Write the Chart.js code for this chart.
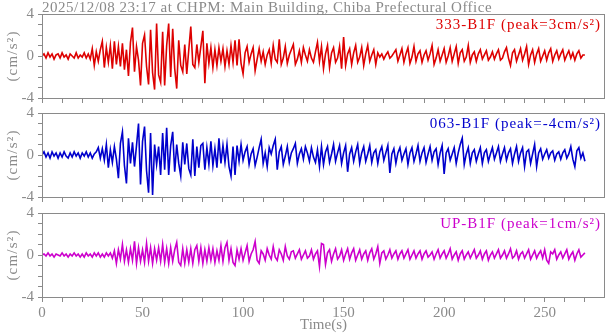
<!DOCTYPE html>
<html>
<head>
<meta charset="utf-8">
<script src="https://cdn.jsdelivr.net/npm/chart.js@4.4.1/dist/chart.umd.min.js"></script>
<style>
  html, body { margin: 0; padding: 0; background: #fff; }
  #wrap { position: relative; width: 605px; height: 334px; overflow: hidden; }
  canvas { position: absolute; left: 0; }
</style>
</head>
<body>
<div id="wrap">
  <canvas id="c1" width="605" height="104" style="top:0px"></canvas>
  <canvas id="c2" width="605" height="103" style="top:100px"></canvas>
  <canvas id="c3" width="605" height="134" style="top:200px"></canvas>
</div>
<script>
// acceleration (cm/s^2), one sample per second from t=0
const sampleStep = 1;

const ch333 = [
  0.0, 0.2, -0.2, 0.3, -0.1, 0.2, -0.3, 0.1, 0.2, -0.2,
  0.3, -0.1, 0.1, -0.3, 0.2, 0.0, -0.2, 0.3, -0.2, 0.1,
  -0.1, 0.3, -0.2, 0.2, -0.3, 0.7, -0.9, 0.4, -0.5, 0.6,
  1.4, -1.1, 0.8, -0.6, 1.0, -1.2, 1.4, -0.8, 0.9, -1.0,
  1.2, -1.3, 0.6, -1.9, 1.3, 2.7, -1.5, 0.9, -0.4, -2.8,
  1.2, 2.0, -1.0, -2.7, 2.5, -1.6, -3.2, 3.1, -1.8, -2.5,
  2.3, -2.8, 1.0, 3.1, -2.0, 2.6, -1.2, -3.1, 1.5, -0.9,
  -1.5, 1.1, -1.7, 0.6, 2.8, -0.8, -1.1, 1.1, -0.6, 0.9,
  2.4, -2.6, 1.2, -0.7, 0.8, -1.1, 0.6, -0.9, 0.8, -0.5,
  0.7, -1.0, 0.5, -0.8, 1.0, -0.6, 1.5, -0.9, 1.6, -0.7,
  -1.7, 0.3, 0.9, -0.6, 0.2, 0.8, -1.4, -0.3, 0.7, -0.5,
  0.4, -0.8, 0.1, 0.6, -0.7, 1.0, -0.3, -0.6, 1.6, -0.8,
  -0.2, 0.9, -0.7, 0.1, 0.6, 1.1, -0.8, -0.3, 0.5, -0.6,
  0.8, 0.1, -0.5, 0.6, -0.2, -0.6, 0.4, 1.3, -0.5, 0.9,
  -1.2, 0.2, 1.0, -1.1, 0.3, 0.8, -0.6, -0.2, 0.9, -1.2,
  1.8, -0.9, 0.2, 0.7, -0.8, 0.3, 1.0, -0.6, -0.1, 0.8,
  -0.9, 0.2, 1.0, -0.5, 0.1, 0.6, -0.8, 0.3, -0.1, 0.2,
  -0.3, 0.1, 0.4, -0.2, 0.0, 0.3, 0.6, -0.5, 0.1, 0.7,
  -0.6, 0.2, 0.8, -0.7, -0.1, 0.9, -0.5, 0.2, 0.5, -0.6,
  0.1, 0.5, -0.4, 0.2, 1.0, -0.8, -0.2, 0.6, -0.5, 0.1,
  0.7, -0.6, 0.0, 0.8, -0.5, 0.2, 0.9, -0.7, 0.3, 0.6,
  -0.5, -0.1, 1.0, -0.6, 0.1, 0.4, -0.5, 0.2, 0.6, -0.3,
  0.1, 0.5, -0.4, -0.1, 0.4, -0.3, 0.2, 0.6, -0.4, -0.2,
  0.4, 0.8, -0.2, -0.9, 0.3, 0.6, -0.5, 0.1, 0.7, -0.4,
  0.2, 0.9, -0.8, 0.1, 0.6, -0.6, 0.2, 0.7, -0.5, 0.0,
  0.5, -0.4, 0.3, 0.7, -0.5, 0.1, 0.5, -0.3, 0.2, 0.6,
  -0.4, 0.1, 0.5, -0.2, 0.3, -0.4, 0.2, 0.5, -0.2, 0.1, 0.1
];

const ch063 = [
  0.0, 0.3, -0.2, 0.2, -0.3, 0.3, -0.1, 0.2, -0.3, 0.2,
  -0.2, 0.3, -0.1, -0.3, 0.2, -0.2, 0.3, -0.1, 0.2, -0.3,
  0.2, -0.1, 0.3, -0.2, 0.2, -0.3, 0.1, 0.3, 0.7, -0.3,
  0.6, -0.5, 1.0, -1.2, 0.5, -0.7, 0.8, -0.4, -2.2, 1.1,
  2.2, -1.0, -2.7, 1.6, -0.8, 1.2, -1.1, 0.9, 3.0, -2.8,
  1.3, 2.7, -1.5, -3.6, 2.1, -3.8, 1.0, -0.9, 0.8, -1.9,
  2.1, -1.4, 2.6, -1.9, 0.9, 2.2, -1.6, 1.0, -0.8, -2.0,
  1.2, -0.9, 1.1, -1.3, -1.9, 1.5, -2.0, 0.8, -1.2, 0.9,
  1.1, -1.4, 0.7, -0.9, 1.3, -1.0, 0.6, -1.2, 1.6, -0.8,
  0.9, -0.7, 1.0, -1.1, -2.0, 0.8, -1.9, 0.9, -0.6, 1.0,
  -0.5, 0.3, 0.8, -0.9, 0.1, 0.6, -1.0, -0.2, 0.7, 1.5,
  -0.8, 0.2, -1.1, 0.7, 0.1, 0.9, 1.5, -1.4, 0.3, 0.8,
  -0.9, -0.1, 0.8, -0.7, 0.2, 0.6, 1.1, -0.8, 0.1, 0.6,
  -0.4, 0.8, 0.2, -0.6, 0.7, -0.2, -0.7, 0.5, -1.1, 0.8,
  -0.9, 0.3, 0.8, -0.7, 0.1, 1.0, -0.6, 0.2, 0.9, -0.8,
  0.2, 0.9, -1.6, 0.1, 0.7, -0.6, 0.3, 1.0, -0.8, 0.2,
  0.8, -0.6, 0.1, 0.9, -0.7, 0.2, 0.5, -0.8, 0.3, 0.8,
  -0.5, 0.2, 0.9, -1.7, 0.1, 0.6, -0.8, 0.2, 0.7, -0.5,
  0.1, 0.6, -0.9, 0.2, 0.7, -0.6, 0.1, 0.9, -0.6, 0.2,
  0.7, -0.7, 0.1, 0.8, -0.5, 0.3, 0.6, -0.9, 0.2, 0.9,
  -1.8, 0.2, 0.6, -0.5, 0.1, 0.7, -0.8, 0.2, 1.0, 1.6,
  -0.9, 0.1, 0.7, -0.8, 0.2, 0.5, -0.6, 0.1, 0.7, -0.8,
  0.2, 0.5, -0.6, 0.1, 0.7, -0.4, 0.2, 0.8, -0.6, 0.1,
  0.7, -0.5, 0.2, 0.6, -0.8, 0.1, 0.8, -0.6, 0.2, 0.7,
  -1.1, 0.3, 0.5, -0.8, 0.1, 1.0, -1.1, 0.2, 0.6, -0.4,
  0.1, 0.5, -0.3, 0.2, 0.4, -0.5, 0.1, 0.3, -0.4, 0.2,
  0.5, -0.3, 0.1, 0.8, -0.4, -1.1, 0.4, 0.7, -0.3, 0.2, -0.6
];

const chUP = [
  0.0, 0.1, -0.1, 0.2, -0.1, 0.1, -0.2, 0.1, 0.0, -0.1,
  0.2, -0.1, 0.1, -0.2, 0.1, -0.1, 0.2, -0.1, 0.1, -0.2,
  0.1, -0.2, 0.2, -0.1, 0.1, -0.2, 0.2, -0.1, 0.2, -0.2,
  0.1, -0.2, 0.2, -0.1, 0.2, -0.3, 0.4, -0.8, 0.5, -0.4,
  1.0, -0.6, 0.5, -0.7, 0.6, -0.5, 1.3, -0.8, 0.7, -0.6,
  0.5, -0.7, 1.1, -0.6, 0.7, -0.8, 0.6, -0.5, 0.7, -0.6,
  1.0, -0.7, 0.6, -0.8, 0.7, -0.6, 0.5, 1.2, -0.7, -1.0,
  0.6, -0.8, 0.5, -0.7, 0.6, -0.8, 0.5, 0.9, -0.6, 0.7,
  -0.8, 0.5, -0.6, 0.7, -0.5, 0.6, -0.7, 0.4, -0.5, 0.9,
  -0.6, 0.7, 1.2, -0.5, 0.6, -0.7, -1.0, 0.5, -0.4, 0.6,
  -0.5, 0.2, 0.9, -0.6, 0.1, 0.5, 1.3, -0.5, -0.8, 0.4,
  0.1, -0.5, 0.6, 0.0, -0.4, 0.8, -0.2, -0.5, 0.5, 0.1,
  -0.5, 0.8, -0.1, -0.4, 0.3, 0.4, -0.3, 0.1, 0.5, -0.4,
  0.0, 0.4, -0.3, -0.1, 0.5, -0.4, 0.1, 0.4, -1.1, 1.1,
  1.0, -0.9, 0.2, 0.5, -0.6, 0.1, 0.6, -0.4, -0.1, 0.5,
  -0.5, 0.1, 0.6, -0.4, 0.2, 0.6, -0.5, 0.0, 0.5, -0.4,
  0.1, 0.4, -0.5, 0.2, 0.6, -0.4, 0.1, 0.8, -0.8, 0.2,
  0.4, -0.4, 0.0, 0.5, -0.3, 0.1, 0.4, -0.4, 0.1, 0.4,
  -0.3, 0.1, 0.5, -0.4, 0.0, 0.4, -0.3, 0.1, 0.4, -0.4,
  0.1, 0.4, -0.2, 0.0, 0.3, -0.4, 0.1, 0.5, -0.3, 0.1,
  0.4, -0.3, 0.1, 0.6, -0.4, 0.0, 0.3, -0.5, 0.1, 0.4,
  -0.4, 0.0, 0.3, -0.3, 0.1, 0.5, -0.3, 0.0, 0.4, -0.4,
  0.1, 0.4, -0.5, 0.0, 0.3, -0.3, 0.1, 0.5, -0.3, 0.0,
  0.4, -0.3, 0.1, 0.6, -0.3, -0.1, 0.4, -0.4, 0.1, 0.3,
  -0.3, 0.1, 0.5, -0.4, 0.0, 0.4, -0.3, 0.1, 0.4, -0.3,
  0.5, -0.5, -0.8, 0.3, 0.1, 0.5, -0.4, 0.0, 0.3, -0.3,
  0.1, 0.5, -0.4, 0.0, 0.3, -0.5, 0.1, 0.5, -0.2, 0.0, 0.2
];

const xTickLabels = [0, 50, 100, 150, 200, 250];
const yTickLabels = [-4, 0, 4];
const chartTitle = '2025/12/08 23:17 at CHPM: Main Building, Chiba Prefectural Office';
const yTitle = '(cm/s²)';

const GREY = '#8a8a8a';
const SERIF = '"Liberation Serif", "DejaVu Serif", serif';

// frame round the plot area, y title, channel label, and the title on the first panel
const panelDeco = {
  id: 'panelDeco',
  afterDraw(chart, args, opts) {
    const { ctx, chartArea: a } = chart;
    ctx.save();
    ctx.strokeStyle = GREY;
    ctx.lineWidth = 1;
    ctx.strokeRect(Math.round(a.left) + 0.5, Math.round(a.top) + 0.5,
      Math.round(a.right - a.left) - 1, Math.round(a.bottom - a.top));

    ctx.textBaseline = 'alphabetic';
    ctx.font = '15px ' + SERIF;

    ctx.save();
    ctx.translate(17, (a.top + a.bottom) / 2);
    ctx.rotate(-Math.PI / 2);
    ctx.letterSpacing = '1.2px';
    ctx.fillStyle = GREY;
    ctx.textAlign = 'center';
    ctx.fillText(yTitle, 0, 0);
    ctx.restore();

    ctx.letterSpacing = '1px';
    ctx.fillStyle = opts.color;
    ctx.textAlign = 'right';
    ctx.fillText(opts.label, a.right - 4, a.top + 15);
    if (opts.title) {
      ctx.letterSpacing = '0.5px';
      ctx.fillStyle = GREY;
      ctx.textAlign = 'left';
      ctx.fillText(opts.title, a.left, a.top - 2.5);
    }
    ctx.restore();
  }
};

function makePanel(id, values, color, label, opts) {
  const pts = values.map((v, i) => ({ x: i * sampleStep, y: v }));
  return new Chart(document.getElementById(id), {
    type: 'line',
    data: {
      datasets: [{
        data: pts,
        borderColor: color,
        borderWidth: 1.6,
        pointRadius: 0,
        tension: 0,
        fill: false
      }]
    },
    options: {
      responsive: false,
      animation: false,
      events: [],
      layout: { padding: { top: opts.top, right: 0, bottom: 0, left: 0 } },
      plugins: {
        legend: { display: false },
        tooltip: { enabled: false },
        panelDeco: { color: color, label: label, title: opts.title }
      },
      scales: {
        x: {
          type: 'linear',
          min: 0,
          max: 280,
          afterFit(s) { s.height = opts.xHeight; s.paddingLeft = 0; s.paddingRight = 0; },
          border: { display: false },
          grid: { drawOnChartArea: false, drawTicks: true, tickLength: 5, color: GREY },
          ticks: {
            stepSize: 10,
            autoSkip: false,
            maxRotation: 0,
            padding: 2,
            color: GREY,
            font: { family: SERIF, size: 15 },
            callback: v => (opts.showX && xTickLabels.includes(v)) ? String(v) : ''
          },
          title: {
            display: opts.showX,
            text: 'Time(s)',
            color: GREY,
            font: { family: SERIF, size: 15 },
            padding: { top: 0, bottom: 0 }
          }
        },
        y: {
          min: -4,
          max: 4,
          afterFit(s) { s.width = 42; s.paddingTop = 0; s.paddingBottom = 0; },
          border: { display: false },
          grid: { drawOnChartArea: false, drawTicks: true, tickLength: 4, color: GREY },
          ticks: {
            stepSize: 1,
            autoSkip: false,
            padding: 4,
            color: GREY,
            font: { family: SERIF, size: 15 },
            callback: v => yTickLabels.includes(v) ? String(v) : ''
          }
        }
      }
    },
    plugins: [panelDeco]
  });
}

makePanel('c1', ch333, '#dd0000', '333-B1F (peak=3cm/s²)', { top: 14, xHeight: 6, showX: false, title: chartTitle });
makePanel('c2', ch063, '#0000cc', '063-B1F (peak=-4cm/s²)', { top: 13, xHeight: 6, showX: false });
makePanel('c3', chUP, '#cc00cc', 'UP-B1F (peak=1cm/s²)', { top: 13, xHeight: 37, showX: true });
</script>
</body>
</html>
